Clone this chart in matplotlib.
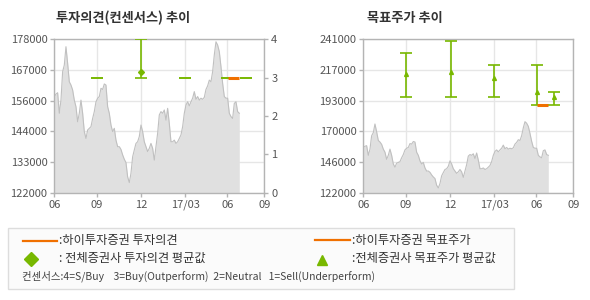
import matplotlib
matplotlib.use("Agg")
import matplotlib.pyplot as plt
import numpy as np
from matplotlib.patches import Rectangle
from matplotlib.lines import Line2D

plt.rcParams['font.family'] = ['Noto Sans CJK KR', 'DejaVu Sans']

# ---- data ----
price = [157100, 158000, 158500, 151000, 155800, 166200, 168600, 175300, 169200, 162500,
         161300, 159500, 155800, 153400, 147900, 151000, 155800, 151000, 144300, 141800,
         144900, 145500, 146100, 149100, 151600, 155200, 156500, 157100, 160100, 159700,
         161700, 161300, 153400, 151000, 146700, 144300, 145500, 141200, 138800, 138800,
         137800, 135800, 134200, 133000, 127800, 125700, 129100, 135100, 137600, 140000,
         140600, 142500, 146700, 144300, 140600, 138800, 137000, 138200, 140000, 138200,
         133900, 138800, 143700, 150400, 151600, 151000, 152200, 148500, 152800, 147300,
         140600, 140600, 141200, 140000, 140600, 141800, 143100, 146100, 151000, 154000,
         155200, 153700, 155200, 156500, 158900, 156100, 157100, 155800, 156500, 156100,
         156800, 159700, 161000, 163100, 162500, 166200, 172300, 177100, 175900, 173500,
         168000, 161900, 157100, 156500, 156500, 151000, 149800, 149100, 154600, 155200,
         151600, 151000]

tick_labels = ['06', '09', '12', '17/03', '06', '09']
tick_pos = [0, 25.6, 52.2, 78.6, 103.8, 126]

# consensus opinion (right axis of left chart)
op_pos = [25.6, 52.2, 78.6, 103.8, 114.8]
op_avg = [3, 3.15, 3, 3, 3]
op_min = [3, 3, 3, 3, 3]
op_max = [3, 4, 3, 3, 3]
hi_op_start, hi_op_end, hi_op_val = 104, 110.8, 3

# target price consensus
tp_pos = [25.6, 52.4, 78.6, 104, 114.6]
tp_avg = [214100, 215900, 211000, 200100, 196200]
tp_min = [196000, 196000, 196000, 190000, 190000]
tp_max = [230000, 240000, 221000, 221000, 200000]
hi_tp_start, hi_tp_end, hi_tp_val = 104, 110.6, 190000

left_yticks = ['122000', '133000', '144000', '156000', '167000', '178000']
right_yticks = ['122000', '146000', '170000', '193000', '217000', '241000']

GREEN = '#78b800'
ORANGE = '#f07000'
GRID = '#e6e6e6'
SPINE = '#b4b4b4'
TXT = '#555555'

fig = plt.figure(figsize=(5.9, 3.0), dpi=100)
fig.patch.set_facecolor('white')

x = np.arange(len(price))


def style(ax, ylo, yhi, labels):
    ax.set_xlim(tick_pos[0], tick_pos[-1])
    ax.set_ylim(ylo, yhi)
    ax.set_xticks(tick_pos)
    ax.set_xticklabels(tick_labels)
    yt = np.linspace(ylo, yhi, len(labels))
    ax.set_yticks(yt)
    ax.set_yticklabels(labels)
    ax.grid(True, color=GRID, linewidth=1)
    ax.set_axisbelow(True)
    for s in ax.spines.values():
        s.set_color(SPINE)
        s.set_linewidth(1)
    ax.tick_params(colors=SPINE, labelcolor=TXT, labelsize=8, length=3, width=1, pad=2)
    ax.fill_between(x, price, ylo, color='#e0e0e0', linewidth=0, zorder=1)
    ax.plot(x, price, color='#c0c0c0', linewidth=0.8, zorder=2)


# left chart
ax1 = fig.add_axes([54.3 / 590, 1 - 192.7 / 300, 210 / 590, 153.4 / 300])
style(ax1, 122000, 178000, left_yticks)
ax1b = ax1.twinx()
ax1b.set_ylim(0, 4)
ax1b.set_yticks([0, 1, 2, 3, 4])
ax1b.tick_params(colors=SPINE, labelcolor=TXT, labelsize=8, length=3, width=1, pad=2)
for s in ax1b.spines.values():
    s.set_visible(False)
avg = np.array(op_avg)
lo = avg - np.array(op_min)
hi = np.array(op_max) - avg
ax1b.errorbar(op_pos, op_avg, yerr=[lo, hi], fmt='none', ecolor=GREEN,
              elinewidth=1.2, capsize=4.5, capthick=1.2, zorder=4)
mask = [(a != mn or a != mx) for a, mn, mx in zip(op_avg, op_min, op_max)]
ax1b.plot([p for p, m in zip(op_pos, mask) if m], [a for a, m in zip(op_avg, mask) if m],
          'D', color=GREEN, markersize=3, zorder=5)
ax1b.plot([hi_op_start, hi_op_end], [hi_op_val, hi_op_val], color=ORANGE, linewidth=2.2,
          solid_capstyle='butt', zorder=6)
fig.text(56 / 590, 1 - 18 / 300, '투자의견(컨센서스) 추이', fontsize=9.5, fontweight='bold',
         color='#333333', va='center', ha='left')

# right chart
ax2 = fig.add_axes([363.3 / 590, 1 - 192.7 / 300, 210 / 590, 153.4 / 300])
style(ax2, 122000, 241000, right_yticks)
tavg = np.array(tp_avg)
ax2.errorbar(tp_pos, tp_avg, yerr=[tavg - np.array(tp_min), np.array(tp_max) - tavg],
             fmt='^', color=GREEN, ecolor=GREEN, markersize=2.8, elinewidth=1.2,
             capsize=4.5, capthick=1.2, zorder=4)
ax2.plot([hi_tp_start, hi_tp_end], [hi_tp_val, hi_tp_val], color=ORANGE, linewidth=2.2,
         solid_capstyle='butt', zorder=6)
fig.text(367 / 590, 1 - 18 / 300, '목표주가 추이', fontsize=9.5, fontweight='bold',
         color='#333333', va='center', ha='left')

# legend box
fig.patches.append(Rectangle((7.5 / 590, 1 - 289 / 300), 506 / 590, 61 / 300,
                             transform=fig.transFigure, facecolor='#fbfbfb',
                             edgecolor='#dddddd', linewidth=1))


def fy(py):
    return 1 - py / 300


def fx(px):
    return px / 590


fig.lines.append(Line2D([fx(23), fx(57)], [fy(240.5), fy(240.5)], transform=fig.transFigure,
                        color=ORANGE, linewidth=1.6))
fig.text(fx(59), fy(240.5), ':하이투자증권 투자의견', fontsize=8.8, color='#333333', va='center')
fig.lines.append(Line2D([fx(315), fx(350)], [fy(239.5), fy(239.5)], transform=fig.transFigure,
                        color=ORANGE, linewidth=1.6))
fig.text(fx(352), fy(240.5), ':하이투자증권 목표주가', fontsize=8.8, color='#333333', va='center')
fig.lines.append(Line2D([fx(31)], [fy(258.5)], transform=fig.transFigure, marker='D',
                        color=GREEN, markersize=7, linestyle='none'))
fig.text(fx(59), fy(258.5), ': 전체증권사 투자의견 평균값', fontsize=8.8, color='#333333', va='center')
fig.lines.append(Line2D([fx(322)], [fy(260)], transform=fig.transFigure, marker='^',
                        color=GREEN, markersize=7, linestyle='none'))
fig.text(fx(352), fy(258.5), ':전체증권사 목표주가 평균값', fontsize=8.8, color='#333333', va='center')
fig.text(fx(22), fy(276.5),
         '컨센서스:4=S/Buy    3=Buy(Outperform)  2=Neutral   1=Sell(Underperform)',
         fontsize=7.5, color='#444444', va='center')

fig.savefig('out.png', dpi=100)
